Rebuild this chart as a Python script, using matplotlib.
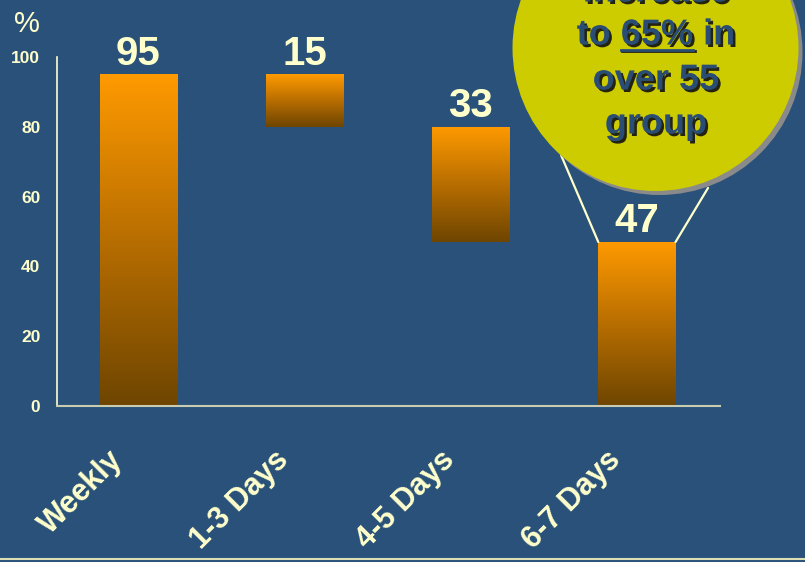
import numpy as np
import matplotlib
matplotlib.use("Agg")
import matplotlib.pyplot as plt
import matplotlib.patheffects as pe
from matplotlib.patches import Circle
from matplotlib.colors import LinearSegmentedColormap

# data
categories = ['Weekly', '1-3 Days', '4-5 Days', '6-7 Days']
values = [95, 15, 33, 47]
bottoms = [0, 80, 47, 0]
yticks = [0, 20, 40, 60, 80, 100]
bubble_lines = ['increase', 'to 65% in', 'over 55', 'group']

BG = '#295179'
CREAM = '#ffffcc'
NAVY = '#2a4d76'
plt.rcParams['font.family'] = ['Liberation Sans', 'DejaVu Sans']

fig = plt.figure(figsize=(8.05, 5.62), dpi=100, facecolor=BG)
ax = fig.add_axes([57/805, (562-406)/562, (720-57)/805, (406-57)/562])
ax.set_facecolor(BG)

x = np.arange(len(categories))
bars = ax.bar(x, values, bottom=bottoms, width=0.465, color='none', edgecolor='none')

# orange -> brown gradient inside each bar
cmap = LinearSegmentedColormap.from_list('og', ['#6e4500', '#b86e00', '#ff9a00'])
grad = np.linspace(0, 1, 256).reshape(-1, 1)
for b in bars:
    x0, y0 = b.get_x(), b.get_y()
    im = ax.imshow(grad, cmap=cmap, origin='lower', aspect='auto',
                   extent=(x0, x0 + b.get_width(), y0, y0 + b.get_height()), zorder=2)
    im.set_clip_path(b)

ax.set_xlim(-0.49, 3.5)
ax.set_ylim(0, 100)

for i, (v, b0) in enumerate(zip(values, bottoms)):
    ax.annotate(str(v), (i, b0 + v), xytext=(0, 7), textcoords='offset points',
                ha='center', va='baseline', fontsize=29, fontweight='bold', color=CREAM)

# axes styling
for s in ['top', 'right']:
    ax.spines[s].set_visible(False)
ax.spines['left'].set_color(CREAM)
ax.spines['left'].set_linewidth(1.2)
ax.spines['bottom'].set_color('#c9ccb0')
ax.spines['bottom'].set_linewidth(1.5)
ax.set_yticks(yticks)
ax.set_yticklabels([str(t) for t in yticks], fontsize=12.5, fontweight='bold', color=CREAM)
ax.tick_params(axis='y', length=0, pad=12)
ax.set_xticks([])

for i, c in enumerate(categories):
    ax.annotate(c, (i, 0), xytext=(-7, -28), textcoords='offset points',
                ha='right', va='top', rotation=45, fontsize=22, fontweight='bold',
                color=CREAM)

fig.text(27/805, 1 - 24/562, '%', ha='center', va='center', fontsize=21, color=CREAM)

# callout lines from the bubble to the last bar
last = bars[-1]
top = last.get_y() + last.get_height()
ax.annotate('', xy=(last.get_x(), top), xytext=(561, 562 - 155), textcoords='figure pixels',
            arrowprops=dict(arrowstyle='-', color=CREAM, lw=1.6, shrinkA=0, shrinkB=0))
ax.annotate('', xy=(last.get_x() + last.get_width(), top), xytext=(708, 562 - 188),
            textcoords='figure pixels',
            arrowprops=dict(arrowstyle='-', color=CREAM, lw=1.6, shrinkA=0, shrinkB=0))

# bubble
cx, cy, r = 6.555, (562 - 48) / 100, 1.43
fig.add_artist(Circle((cx + 0.04, cy - 0.04), r, transform=fig.dpi_scale_trans,
                      facecolor='#8a8a8a', edgecolor='none', zorder=5))
fig.add_artist(Circle((cx, cy), r, transform=fig.dpi_scale_trans,
                      facecolor='#cccc00', edgecolor='none', zorder=6))

shadow = [pe.withSimplePatchShadow(offset=(1.8, -1.8), shadow_rgbFace='#111111', alpha=0.9)]
line_y = [-8, 35, 80, 124]
txt_kw = dict(va='center', fontsize=26, fontweight='bold', color=NAVY, zorder=7)
for s, yy in zip(bubble_lines, line_y):
    fig.text(656/805, 1 - yy/562, s, ha='center', path_effects=shadow, **txt_kw)

# underline "65%" - measure where it sits in the centred line
fig.canvas.draw()
rend = fig.canvas.get_renderer()
widths = {}
for s in ['to 65% in', 'to ', 'to 65%']:
    t = fig.text(0, 0, s, ha='left', **txt_kw)
    widths[s] = t.get_window_extent(rend).width
    t.remove()
left = 656 - widths['to 65% in'] / 2
ux0 = left + widths['to ']
ux1 = left + widths['to 65%']
uy = 562 - 50
fig.add_artist(plt.Line2D([ux0 / 805, ux1 / 805], [uy / 562, uy / 562], color=NAVY, lw=2,
                          zorder=7, path_effects=[pe.SimpleLineShadow(offset=(1, -1), shadow_color='#111111', alpha=0.9), pe.Normal()]))

# thin line at the bottom of the slide
fig.add_artist(plt.Line2D([0, 1], [1 - 559/562] * 2, color='#dcdfb4', lw=1.5))

fig.savefig('out.png', dpi=100, facecolor=BG)
